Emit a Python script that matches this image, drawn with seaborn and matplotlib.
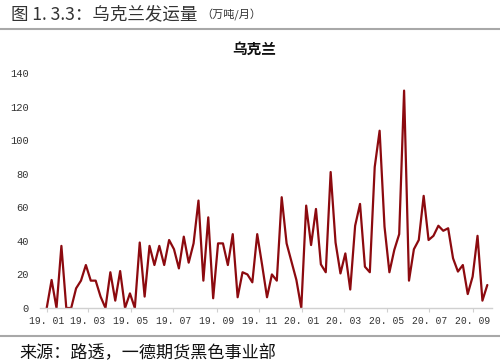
import matplotlib
matplotlib.use("Agg")
import matplotlib.pyplot as plt
import matplotlib.lines as mlines
import seaborn as sns
import pandas as pd
import numpy as np

# ---- data ----
start_date = "2019-01-01"
values = [0, 16.7, 0, 37, 0, 0, 11.7, 16.3, 25.6, 16.3,
          16.3, 6.8, 0, 21.3, 4.4, 22, 0, 8.7, 0, 39,
          6.8, 37, 25.6, 37, 25.6, 40.5, 35, 23.6, 42.5, 27,
          38.5, 64, 16.3, 54, 5.8, 38.5, 38.5, 25.6, 44, 6.4,
          21.3, 20, 15.3, 44, 25.6, 6.4, 20, 16.3, 66, 38.5,
          27.6, 16.7, 0, 61, 37.5, 59, 26, 21.3, 81, 39,
          20.6, 32.5, 11, 49, 62, 24.6, 21.3, 84, 105.6, 48.5,
          21.3, 34.6, 44, 129.5, 16.3, 35, 40.5, 66.8, 40.5, 43,
          49, 46, 47.5, 29.6, 21.7, 25.6, 8.3, 18.7, 43, 4.4,
          13.7]
tick_labels = ["19. 01", "19. 03", "19. 05", "19. 07", "19. 09", "19. 11",
               "20. 01", "20. 03", "20. 05", "20. 07", "20. 09"]
y_ticks = [0, 20, 40, 60, 80, 100, 120, 140]
header = "图 1. 3.3：乌克兰发运量"
unit = "（万吨/月）"
title = "乌克兰"
source = "来源：路透，一德期货黑色事业部"

dates = pd.date_range(start_date, periods=len(values), freq="7D")
df = pd.DataFrame({"date": dates, "value": values})
tick_dates = pd.date_range("2019-01-01", "2020-09-01", freq="2MS")

sns.set_theme(style="white")
plt.rcParams["font.family"] = ["Noto Sans CJK SC", "DejaVu Sans"]

fig = plt.figure(figsize=(5.0, 3.63), dpi=100)
ax = fig.add_axes([0.08, 0.1515, 0.904, 0.6706])

sns.lineplot(data=df, x="date", y="value", ax=ax, color="#8c0a0f",
             linewidth=1.6)

ax.set_xlim(dates[0] - pd.Timedelta(days=9.6), dates[-1] + pd.Timedelta(days=6.7))
ax.set_ylim(0, 145)
ax.set_yticks(y_ticks)
ax.set_yticklabels([str(v) for v in y_ticks], family="Liberation Mono",
                   fontsize=7.5, color="#333333")
ax.set_xticks(tick_dates)
ax.set_xticklabels(tick_labels, family="Liberation Mono", fontsize=7,
                   color="#333333")
ax.set_xlabel("")
ax.set_ylabel("")
for s in ["top", "right", "left"]:
    ax.spines[s].set_visible(False)
ax.spines["bottom"].set_color("#d0d0d0")
ax.spines["bottom"].set_linewidth(1.0)
ax.tick_params(axis="x", length=3, width=0.8, color="#d0d0d0", pad=3,
               bottom=True, direction="out")
ax.tick_params(axis="y", length=0, pad=8)
ax.grid(False)

fig.text(0.022, 0.962, header, fontsize=12.6, va="center", ha="left",
         color="#333333")
fig.text(0.402, 0.958, unit, fontsize=8, va="center", ha="left",
         color="#333333")
fig.text(0.508, 0.866, title, fontsize=10.5, fontweight="bold", va="center",
         ha="center", color="#111111")
fig.text(0.038, 0.027, source, fontsize=12.3, va="center", ha="left",
         color="#111111")

fig.add_artist(mlines.Line2D([0, 1], [1 - 29 / 363, 1 - 29 / 363],
                             transform=fig.transFigure, color="#a8a8a8",
                             linewidth=1.5))
fig.add_artist(mlines.Line2D([0, 1], [1 - 336 / 363, 1 - 336 / 363],
                             transform=fig.transFigure, color="#a8a8a8",
                             linewidth=1.5))

fig.savefig("out.png", dpi=100)
